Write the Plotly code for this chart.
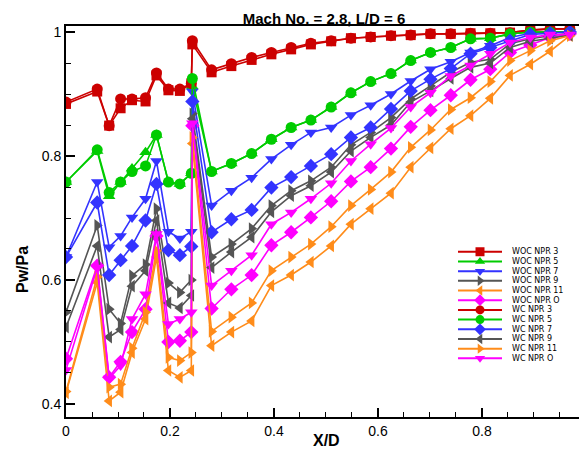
import plotly.graph_objects as go

# ---------------- data ----------------
x_early = [0, 0.060, 0.083, 0.105, 0.127, 0.153, 0.174, 0.197, 0.219, 0.241, 0.243]
x_late = [0.280, 0.318, 0.357, 0.395, 0.433, 0.471, 0.510, 0.548, 0.586, 0.625,
          0.663, 0.701, 0.740, 0.778, 0.816, 0.854, 0.893, 0.931, 0.969]
x_d = x_early + x_late

woc_npr3 = [0.884, 0.904, 0.849, 0.877, 0.890, 0.888, 0.930, 0.906, 0.905, 0.917, 0.980,
            0.935, 0.945, 0.955, 0.964, 0.972, 0.980, 0.985, 0.990, 0.992, 0.994,
            0.995, 0.997, 0.997, 0.998, 0.998, 0.999, 1.003, 1.005, 1.005]
woc_npr5 = [0.758, 0.808, 0.735, 0.758, 0.780, 0.806, 0.834, 0.758, 0.755, 0.772, 0.912,
            0.775, 0.788, 0.804, 0.827, 0.846, 0.858, 0.879, 0.902, 0.920, 0.933,
            0.954, 0.967, 0.975, 0.989, 0.990, 0.997, 1.000, 1.000, 1.000]
woc_npr7 = [0.637, 0.758, 0.653, 0.671, 0.701, 0.731, 0.792, 0.678, 0.667, 0.678, 0.904,
            0.720, 0.744, 0.765, 0.795, 0.818, 0.838, 0.846, 0.866, 0.882, 0.900,
            0.921, 0.940, 0.952, 0.967, 0.978, 0.991, 0.998, 1.000, 1.000]
woc_npr9 = [0.548, 0.688, 0.553, 0.530, 0.607, 0.625, 0.715, 0.595, 0.580, 0.600, 0.868,
            0.637, 0.658, 0.683, 0.720, 0.744, 0.760, 0.782, 0.818, 0.838, 0.862,
            0.892, 0.913, 0.935, 0.951, 0.956, 0.981, 0.989, 0.994, 0.998]
woc_npr11 = [0.418, 0.596, 0.405, 0.419, 0.483, 0.537, 0.637, 0.454, 0.443, 0.454, 0.820,
             0.494, 0.516, 0.534, 0.591, 0.608, 0.629, 0.655, 0.690, 0.715, 0.740,
             0.782, 0.813, 0.844, 0.865, 0.893, 0.930, 0.948, 0.969, 0.994]
woc_npr0 = [0.473, 0.623, 0.443, 0.468, 0.516, 0.553, 0.671, 0.500, 0.502, 0.516, 0.849,
            0.554, 0.585, 0.608, 0.656, 0.677, 0.701, 0.727, 0.759, 0.782, 0.812,
            0.847, 0.874, 0.898, 0.923, 0.940, 0.967, 0.979, 0.991, 0.997]
wc_npr3 = [0.887, 0.908, 0.849, 0.892, 0.892, 0.894, 0.934, 0.908, 0.908, 0.917, 0.986,
           0.939, 0.949, 0.959, 0.967, 0.975, 0.982, 0.986, 0.990, 0.992, 0.994,
           0.995, 0.997, 0.997, 0.998, 0.998, 0.999, 1.003, 1.005, 1.005]
wc_npr5 = [0.758, 0.810, 0.741, 0.758, 0.775, 0.784, 0.834, 0.758, 0.755, 0.772, 0.925,
           0.775, 0.788, 0.804, 0.827, 0.846, 0.858, 0.879, 0.902, 0.920, 0.933,
           0.954, 0.967, 0.975, 0.989, 0.990, 0.997, 1.000, 1.000, 1.000]
wc_npr7 = [0.637, 0.725, 0.608, 0.632, 0.655, 0.696, 0.755, 0.648, 0.640, 0.654, 0.888,
           0.677, 0.698, 0.713, 0.749, 0.766, 0.784, 0.803, 0.830, 0.846, 0.876,
           0.905, 0.924, 0.941, 0.965, 0.975, 0.986, 0.996, 0.998, 1.000]
wc_npr9 = [0.524, 0.655, 0.508, 0.520, 0.590, 0.615, 0.696, 0.563, 0.555, 0.575, 0.860,
           0.620, 0.645, 0.669, 0.710, 0.736, 0.752, 0.774, 0.808, 0.830, 0.850,
           0.887, 0.905, 0.925, 0.943, 0.950, 0.975, 0.985, 0.990, 0.995]
wc_npr11 = [0.420, 0.605, 0.427, 0.432, 0.490, 0.548, 0.647, 0.475, 0.470, 0.483, 0.830,
            0.517, 0.540, 0.563, 0.615, 0.637, 0.658, 0.686, 0.720, 0.746, 0.774,
            0.814, 0.842, 0.875, 0.894, 0.920, 0.954, 0.970, 0.986, 0.994]
wc_npr0 = [0.455, 0.620, 0.441, 0.462, 0.537, 0.577, 0.674, 0.529, 0.537, 0.548, 0.853,
           0.591, 0.615, 0.640, 0.690, 0.709, 0.731, 0.756, 0.792, 0.819, 0.845,
           0.879, 0.902, 0.929, 0.946, 0.965, 0.983, 0.991, 0.996, 0.996]

series_names = ["WOC NPR 3", "WOC NPR 5", "WOC NPR 7", "WOC NPR 9", "WOC NPR 11", "WOC NPR O",
                "WC NPR 3", "WC NPR 5", "WC NPR 7", "WC NPR 9", "WC NPR 11", "WC NPR O"]
series_values = [woc_npr3, woc_npr5, woc_npr7, woc_npr9, woc_npr11, woc_npr0,
                 wc_npr3, wc_npr5, wc_npr7, wc_npr9, wc_npr11, wc_npr0]
x_tick_vals = [0, 0.2, 0.4, 0.6, 0.8, 1.0]
x_tick_text = ["0", "0.2", "0.4", "0.6", "0.8", "1"]
y_tick_vals = [0.4, 0.6, 0.8, 1.0]
y_tick_text = ["0.4", "0.6", "0.8", "1"]

# ---------------- styles ----------------
RED, GREEN, BLUE, GRAY, ORANGE, MAGENTA = "#cc0000", "#00cc00", "#3333ff", "#555555", "#ff8c1a", "#ff00ff"
colors = [RED, GREEN, BLUE, GRAY, ORANGE, MAGENTA, RED, GREEN, BLUE, GRAY, ORANGE, MAGENTA]
symbols = ["square", "triangle-up", "triangle-down", "triangle-right", "triangle-left", "diamond",
           "circle", "circle", "diamond", "triangle-left", "triangle-right", "triangle-down"]
sizes = [10, 11, 11, 11, 11, 11, 11, 11, 11, 11, 11, 11]
FONT = "Arial, Liberation Sans, sans-serif"
LEG_FONT = "DejaVu Sans, Arial, sans-serif"

# page offset (browser body margin) compensation
OFF = 8
W, H = 587 - OFF, 450 - OFF

fig = go.Figure()
for name, vals, c, s, sz in zip(series_names, series_values, colors, symbols, sizes):
    fig.add_trace(go.Scatter(
        x=x_d, y=vals, name=name, mode="lines+markers",
        line=dict(color=c, width=1.6),
        marker=dict(symbol=s, size=sz, color=c),
        showlegend=False, xaxis="x", yaxis="y"))

# compact legend drawn in an auxiliary hidden axis pair (1 unit = legend line length)
n = len(series_names)
LEG_RANGE = 2.8
for i, (name, c, s) in enumerate(zip(series_names, colors, symbols)):
    ly = n - 1 - i
    fig.add_trace(go.Scatter(x=[0, 1], y=[ly, ly], mode="lines", line=dict(color=c, width=2),
                             showlegend=False, xaxis="x2", yaxis="y2", hoverinfo="skip"))
    fig.add_trace(go.Scatter(x=[0.5], y=[ly], mode="markers", marker=dict(symbol=s, size=9, color=c),
                             showlegend=False, xaxis="x2", yaxis="y2", cliponaxis=False, hoverinfo="skip"))
    fig.add_annotation(x=1.18, y=ly, xref="x2", yref="y2", text=name, showarrow=False,
                       xanchor="left", yanchor="middle", font=dict(family=LEG_FONT, size=8, color="black"))

leg_x0 = (458 - 66) / 521
leg_x1 = (458 + 44 * LEG_RANGE - 66) / 521

fig.update_layout(
    width=W, height=H,
    margin=dict(l=66 - OFF, r=0, t=26 - OFF, b=H - (417 - OFF), pad=0),
    paper_bgcolor="white", plot_bgcolor="rgba(0,0,0,0)",
    title=dict(text="Mach No. = 2.8, L/D = 6", x=(324 - OFF) / W, xref="container", xanchor="center",
               y=1 - (19 - OFF) / H, yref="container", yanchor="middle",
               font=dict(family=FONT, size=15, color="black", weight="bold")),
    xaxis=dict(range=[0, 1.002], tickvals=x_tick_vals, ticktext=x_tick_text,
               ticks="inside", ticklen=9, tickwidth=1.5, tickcolor="black",
               showline=True, linecolor="black", linewidth=2, mirror=True,
               showgrid=False, zeroline=False,
               tickfont=dict(family=FONT, size=14, color="black"),
               minor=dict(dtick=0.05, tick0=0, ticks="inside", ticklen=5, tickwidth=1, tickcolor="black")),
    yaxis=dict(range=[0.379, 1.0097], tickvals=y_tick_vals, ticktext=y_tick_text,
               ticks="inside", ticklen=9, tickwidth=1.5, tickcolor="black",
               showline=True, linecolor="black", linewidth=2, mirror=False,
               showgrid=False, zeroline=False,
               tickfont=dict(family=FONT, size=14, color="black"),
               minor=dict(dtick=0.05, tick0=0, ticks="inside", ticklen=5, tickwidth=1, tickcolor="black")),
    xaxis2=dict(domain=[leg_x0, leg_x1], range=[0, LEG_RANGE], visible=False,
                anchor="y2", fixedrange=True),
    yaxis2=dict(domain=[(417 - 363.2) / 391, (417 - 246.9) / 391], range=[-0.5, n - 0.5],
                visible=False, anchor="x2", fixedrange=True),
)

fig.add_annotation(text="X/D", x=(326 - 66) / 521, y=(417 - 440) / 391, xref="paper", yref="paper",
                   showarrow=False, xanchor="center", yanchor="middle",
                   font=dict(family=FONT, size=16, color="black", weight="bold"))
fig.add_annotation(text="Pw/Pa", x=(22 - 66) / 521, y=(417 - 270) / 391, xref="paper", yref="paper",
                   showarrow=False, xanchor="center", yanchor="middle", textangle=-90,
                   font=dict(family=FONT, size=16, color="black", weight="bold"))

fig.write_html("out.html")
